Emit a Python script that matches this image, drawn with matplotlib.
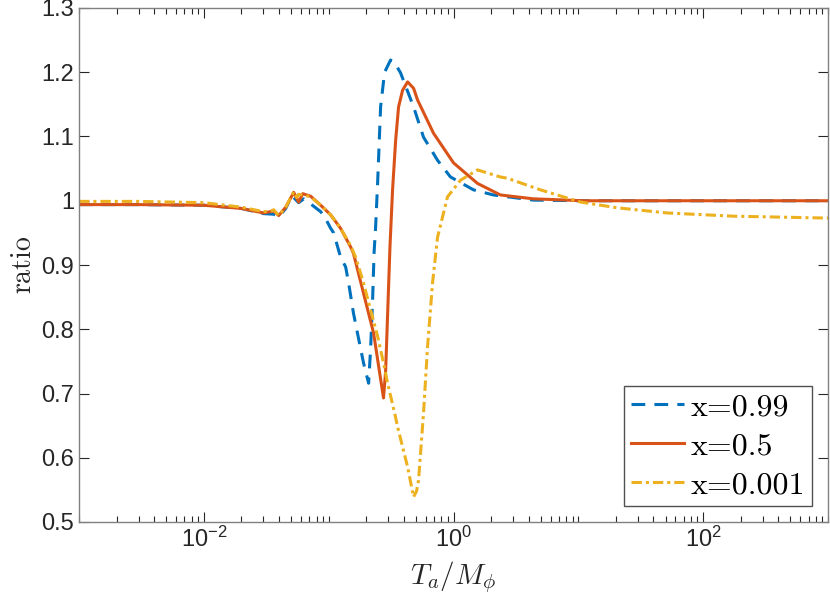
import matplotlib
matplotlib.use("Agg")
import matplotlib.pyplot as plt
from matplotlib.font_manager import FontProperties
from matplotlib.ticker import FixedLocator, LogLocator, NullFormatter, FuncFormatter

plt.rcParams['font.family'] = ['Liberation Sans', 'DejaVu Sans']
plt.rcParams['mathtext.fontset'] = 'cm'

# x=0.99 (синяя штриховая)
x_099 = [0.001, 0.003, 0.01, 0.02, 0.03, 0.0363, 0.0398, 0.0453, 0.0506, 0.0575,
         0.0631, 0.0718, 0.0863, 0.0946, 0.1038, 0.1096, 0.1247, 0.1368, 0.1445,
         0.158, 0.1738, 0.1905, 0.2089, 0.2168, 0.2249, 0.2312, 0.2377, 0.2466,
         0.2606, 0.2805, 0.3133, 0.3373, 0.3767, 0.479, 0.575, 0.745, 0.946,
         1.445, 2.089, 4.365, 10.96, 1000]
y_099 = [0.994, 0.994, 0.993, 0.988, 0.980, 0.979, 0.975, 0.988, 1.008, 0.997,
         1.003, 0.995, 0.983, 0.972, 0.957, 0.950, 0.912, 0.897, 0.872,
         0.825, 0.785, 0.747, 0.716, 0.770, 0.846, 0.920, 0.959, 1.027,
         1.146, 1.200, 1.219, 1.215, 1.199, 1.146, 1.099, 1.063, 1.037,
         1.017, 1.009, 1.001, 1.000, 1.000]

# x=0.5 (красная сплошная)
x_05 = [0.001, 0.003, 0.01, 0.02, 0.03, 0.0363, 0.0398, 0.0453, 0.0525, 0.0575,
        0.062, 0.0718, 0.0863, 0.1038, 0.1247, 0.150, 0.158, 0.229, 0.275,
        0.286, 0.310, 0.325, 0.344, 0.363, 0.391, 0.429, 0.479, 0.515, 0.692,
        1.0, 1.556, 2.377, 4.365, 10.96, 1000]
y_05 = [0.994, 0.994, 0.993, 0.988, 0.981, 0.984, 0.977, 0.990, 1.013, 0.998,
        1.011, 1.007, 0.993, 0.978, 0.957, 0.928, 0.918, 0.794, 0.693,
        0.735, 0.930, 1.017, 1.094, 1.146, 1.172, 1.185, 1.175, 1.157, 1.105,
        1.059, 1.027, 1.009, 1.003, 1.000, 1.000]

# x=0.001 (жёлтая штрих-пунктирная)
x_0001 = [0.001, 0.003, 0.01, 0.02, 0.03, 0.0344, 0.0363, 0.0398, 0.0453, 0.0525,
          0.0555, 0.0575, 0.0655, 0.0718, 0.0863, 0.1038, 0.1247, 0.150, 0.1644,
          0.1871, 0.2168, 0.2466, 0.2754, 0.2965, 0.3436, 0.3565, 0.4285, 0.4786,
          0.5058, 0.5248, 0.5754, 0.6194, 0.6792, 0.7447, 0.895, 1.138, 1.556,
          2.377, 2.704, 4.966, 10.38, 20.51, 51.5, 173.8, 1000]
y_0001 = [0.999, 0.999, 0.997, 0.990, 0.983, 0.984, 0.986, 0.977, 0.990, 1.014,
          1.005, 1.010, 1.008, 1.006, 0.993, 0.978, 0.957, 0.930, 0.912,
          0.877, 0.830, 0.789, 0.747, 0.716, 0.663, 0.648, 0.586, 0.539,
          0.548, 0.565, 0.670, 0.772, 0.872, 0.943, 1.006, 1.032, 1.048,
          1.037, 1.035, 1.017, 0.998, 0.989, 0.981, 0.976, 0.973]

labels = ['x=0.99', 'x=0.5', 'x=0.001']

fig = plt.figure(figsize=(8.3, 6.03), dpi=100)
ax = fig.add_axes([79 / 830, 81 / 603, 749 / 830, 514 / 603])

ax.plot(x_099, y_099, color='#0072BD', lw=2.2, dashes=[4.5, 3.0], label=labels[0])
ax.plot(x_05, y_05, color='#D95319', lw=2.2, label=labels[1])
ax.plot(x_0001, y_0001, color='#EDB120', lw=2.2, dashes=[3.4, 1.3, 1.0, 1.3], label=labels[2])

ax.set_xscale('log')
ax.set_xlim(1e-3, 1e3)
ax.set_ylim(0.5, 1.3)

ax.xaxis.set_major_locator(FixedLocator([1e-2, 1e0, 1e2]))
ax.xaxis.set_minor_locator(LogLocator(base=10, subs=range(1, 10), numticks=20))
ax.xaxis.set_minor_formatter(NullFormatter())
ax.set_yticks([0.5, 0.6, 0.7, 0.8, 0.9, 1.0, 1.1, 1.2, 1.3])
ax.yaxis.set_major_formatter(FuncFormatter(lambda v, p: '%g' % round(v, 2)))

ax.tick_params(which='both', direction='in', top=True, right=True,
               labelsize=17, colors='#262626', width=0.8)
ax.tick_params(which='major', length=7)
ax.tick_params(which='minor', length=4)
for s in ax.spines.values():
    s.set_color('#808080')
    s.set_linewidth(1.0)

ax.set_xlabel(r'$T_a/M_\phi$', fontsize=21, color='#262626', labelpad=5)
ax.set_ylabel(r'$\mathrm{ratio}$', fontsize=20, color='#262626', labelpad=3)

leg_font = FontProperties(family='cmr10', size=23)
leg = ax.legend(loc='lower right', prop=leg_font, frameon=True, fancybox=False,
                edgecolor='#262626', handlelength=1.65, handletextpad=0.2,
                labelspacing=0.33, borderpad=0.22, borderaxespad=0.5)
leg.get_frame().set_linewidth(1.0)

fig.savefig('out.png', dpi=100)
